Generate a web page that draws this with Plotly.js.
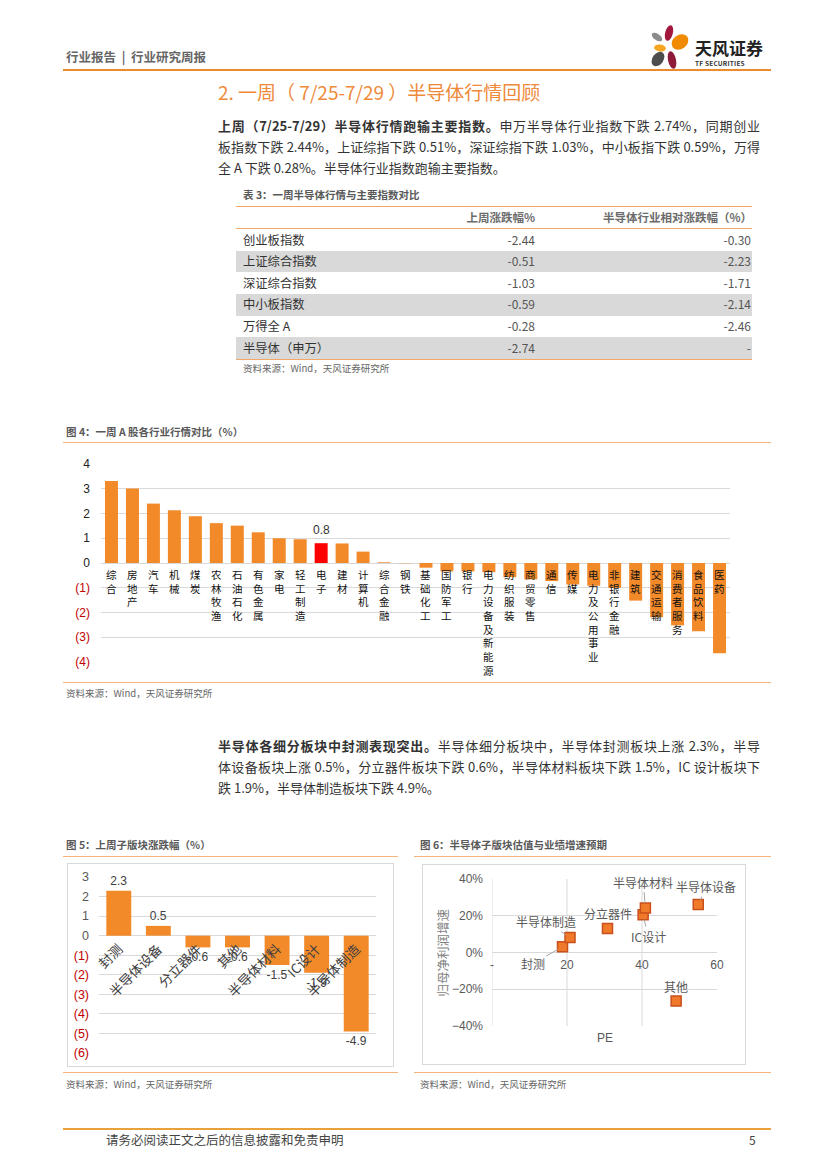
<!DOCTYPE html>
<html><head><meta charset="utf-8">
<script src="https://cdn.plot.ly/plotly-3.0.1.min.js"></script>
<style>
html,body{margin:0;padding:0;background:#fff;}
body{width:827px;height:1169px;position:relative;overflow:hidden;font-family:"Noto Sans CJK SC","Noto Sans",sans-serif;color:#333;}
.a{position:absolute;white-space:nowrap;}
.hl{position:absolute;height:0;}
.para{position:absolute;left:218px;width:542px;font-size:13px;line-height:21px;height:21px;white-space:nowrap;color:#333;}
.j{text-align:justify;text-align-last:justify;}
.cap{position:absolute;white-space:nowrap;font-size:10.5px;font-weight:bold;color:#595959;line-height:14px;}
.src{position:absolute;white-space:nowrap;font-size:9.5px;color:#666;line-height:12px;}
.plot{position:absolute;}
.box{position:absolute;border:1px solid #D9D9D9;box-sizing:border-box;}
</style></head><body>

<!-- header -->
<div class="a" style="left:66px;top:49px;font-size:12.5px;font-weight:bold;color:#666;line-height:16px;">行业报告 &nbsp;|&nbsp; 行业研究周报</div>
<svg style="position:absolute;left:640px;top:20px;" width="60" height="55" viewBox="640 20 60 55">
  <ellipse cx="669" cy="33" rx="3.8" ry="8" transform="rotate(15 669 33)" fill="#A3173D"/>
  <ellipse cx="680" cy="42" rx="9" ry="7" transform="rotate(-35 680 42)" fill="#F08A00"/>
  <ellipse cx="657" cy="37" rx="3.2" ry="6" transform="rotate(-55 657 37)" fill="#8C8C8C"/>
  <ellipse cx="660" cy="48" rx="6" ry="3.5" transform="rotate(8 660 48)" fill="#F5A623"/>
  <ellipse cx="658" cy="59" rx="5.5" ry="8" transform="rotate(35 658 59)" fill="#4D4D4D"/>
  <ellipse cx="672" cy="60" rx="4" ry="9" transform="rotate(-12 672 60)" fill="#8E1B3A"/>
</svg>
<div class="a" style="left:695px;top:37px;font-size:17px;font-weight:bold;color:#222;line-height:22px;">天风证券</div>
<div class="a" style="left:695px;top:59px;font-size:6.5px;font-weight:bold;color:#333;line-height:8px;letter-spacing:0.2px;">TF SECURITIES</div>
<div class="hl" style="left:63px;top:69px;width:708px;border-top:2px solid #EE8A2E;"></div>

<!-- section title -->
<div class="a" style="left:218px;top:80px;font-size:19px;color:#EE8A3A;line-height:24px;">2. 一周（ 7/25-7/29 ）半导体行情回顾</div>

<div class="para j" style="top:115px;"><b>上周（7/25-7/29）半导体行情跑输主要指数。</b>申万半导体行业指数下跌 2.74%，同期创业</div>
<div class="para j" style="top:136px;">板指数下跌 2.44%，上证综指下跌 0.51%，深证综指下跌 1.03%，中小板指下跌 0.59%，万得</div>
<div class="para" style="top:157px;">全 A 下跌 0.28%。半导体行业指数跑输主要指数。</div>

<!-- table -->
<div class="cap" style="left:243px;top:188px;font-size:10.5px;">表 3：一周半导体行情与主要指数对比</div>
<div id="tbl"></div>
<div class="src" style="left:243px;top:362px;">资料来源：Wind，天风证券研究所</div>

<!-- chart 4 -->
<div class="cap" style="left:66px;top:425px;">图 4：一周 A 股各行业行情对比（%）</div>
<div class="hl" style="left:63px;top:442px;width:708px;border-top:1.5px solid #F4B47A;"></div>
<div id="c4" class="plot" style="left:60px;top:448px;width:700px;height:232px;"></div>
<div class="hl" style="left:63px;top:682px;width:708px;border-top:1.5px solid #F4B47A;"></div>
<div class="src" style="left:66px;top:687px;">资料来源：Wind，天风证券研究所</div>

<div class="para j" style="top:735px;"><b>半导体各细分板块中封测表现突出。</b>半导体细分板块中，半导体封测板块上涨 2.3%，半导</div>
<div class="para j" style="top:756px;">体设备板块上涨 0.5%，分立器件板块下跌 0.6%，半导体材料板块下跌 1.5%，IC 设计板块下</div>
<div class="para" style="top:777px;">跌 1.9%，半导体制造板块下跌 4.9%。</div>

<!-- chart 5 -->
<div class="cap" style="left:66px;top:838px;">图 5：上周子版块涨跌幅（%）</div>
<div class="hl" style="left:63px;top:856px;width:335px;border-top:1.5px solid #F4B47A;"></div>
<div class="box" style="left:67px;top:863px;width:327px;height:204px;"></div>
<div id="c5" class="plot" style="left:67px;top:863px;width:327px;height:204px;"></div>
<div class="hl" style="left:63px;top:1072px;width:335px;border-top:1.5px solid #F4B47A;"></div>
<div class="src" style="left:66px;top:1078px;">资料来源：Wind，天风证券研究所</div>

<!-- chart 6 -->
<div class="cap" style="left:420px;top:838px;">图 6：半导体子版块估值与业绩增速预期</div>
<div class="hl" style="left:414px;top:856px;width:357px;border-top:1.5px solid #F4B47A;"></div>
<div class="box" style="left:422px;top:864px;width:324px;height:201px;"></div>
<div id="c6" class="plot" style="left:422px;top:864px;width:324px;height:201px;"></div>
<div class="hl" style="left:414px;top:1072px;width:357px;border-top:1.5px solid #F4B47A;"></div>
<div class="src" style="left:420px;top:1078px;">资料来源：Wind，天风证券研究所</div>

<!-- footer -->
<div class="hl" style="left:63px;top:1128px;width:708px;border-top:2.5px solid #E9A23B;"></div>
<div class="a" style="left:106px;top:1132px;font-size:12.5px;color:#444;line-height:16px;">请务必阅读正文之后的信息披露和免责申明</div>
<div class="a" style="left:749px;top:1132px;font-size:12px;color:#444;line-height:16px;">5</div>

<script>
// ---------- Table 3 data ----------
const tblNames = ['创业板指数','上证综合指数','深证综合指数','中小板指数','万得全 A','半导体（申万）'];
const tblChg = ['-2.44','-0.51','-1.03','-0.59','-0.28','-2.74'];
const tblRel = ['-0.30','-2.23','-1.71','-2.14','-2.46','-'];
const tblHead = ['上周涨跌幅%','半导体行业相对涨跌幅（%）'];

// ---------- Chart 4 data ----------
const cats4 = ['综合','房地产','汽车','机械','煤炭','农林牧渔','石油石化','有色金属','家电','轻工制造','电子','建材','计算机','综合金融','钢铁','基础化工','国防军工','银行','电力设备及新能源','纺织服装','商贸零售','通信','传媒','电力及公用事业','非银行金融','建筑','交通运输','消费者服务','食品饮料','医药'];
const vals4 = [3.31,3.01,2.40,2.13,1.89,1.61,1.51,1.24,1.00,0.96,0.80,0.79,0.46,0.03,-0.01,-0.19,-0.34,-0.34,-0.37,-0.57,-0.66,-0.73,-0.87,-0.92,-1.00,-1.52,-2.19,-2.52,-2.76,-3.65];
const ticks4 = [4,3,2,1,0,-1,-2,-3,-4];
const tickLabels4 = ['4','3','2','1','0','(1)','(2)','(3)','(4)'];
const highlight4 = '电子';

// ---------- Chart 5 data ----------
const cats5 = ['封测','半导体设备','分立器件','其他','半导体材料','IC设计','半导体制造'];
const vals5 = [2.3,0.5,-0.6,-0.6,-1.5,-1.9,-4.9];
const ticks5 = [3,2,1,0,-1,-2,-3,-4,-5,-6];
const tickLabels5 = ['3','2','1','0','(1)','(2)','(3)','(4)','(5)','(6)'];

// ---------- Chart 6 data ----------
const names6 = ['封测','半导体制造','分立器件','IC设计','半导体材料','半导体设备','其他'];
const pe6 = [18.8,20.8,30.8,40.3,40.9,55.0,49.1];
const growth6 = [0.031,0.081,0.130,0.206,0.242,0.261,-0.264];
const xticks6 = [0,20,40,60];
const xtickLabels6 = ['-','20','40','60'];

// ---------- build table ----------
(function(){
  const t = document.getElementById('tbl');
  const L = 236, R = 752, top0 = 206, headH = 22, rowH = 21.65;
  let h = '';
  h += `<div class="hl" style="left:${L}px;top:${top0}px;width:${R-L}px;border-top:1.5px solid #F3A867;"></div>`;
  h += `<div class="a" style="left:${L}px;width:${535-L}px;top:${top0+3}px;text-align:right;font-size:11.5px;font-weight:bold;color:#6b6b6b;line-height:16px;">${tblHead[0]}</div>`;
  h += `<div class="a" style="left:540px;width:${R-540}px;top:${top0+3}px;text-align:right;font-size:11.5px;font-weight:bold;color:#6b6b6b;line-height:16px;">${tblHead[1]}</div>`;
  h += `<div class="hl" style="left:${L}px;top:${top0+headH}px;width:${R-L}px;border-top:1.5px solid #F3A867;"></div>`;
  tblNames.forEach((n,i)=>{
    const y = top0 + headH + 1 + i*rowH;
    if (i % 2 === 1) h += `<div style="position:absolute;left:${L}px;top:${y}px;width:${R-L}px;height:${rowH}px;background:#D9D9D9;"></div>`;
    h += `<div class="a" style="left:243px;top:${y+2.5}px;font-size:12.3px;color:#333;line-height:16px;">${n}</div>`;
    h += `<div class="a" style="left:${L}px;width:${535-L}px;top:${y+2.5}px;text-align:right;font-size:12px;color:#555;line-height:16px;">${tblChg[i]}</div>`;
    h += `<div class="a" style="left:540px;width:${R-1-540}px;top:${y+2.5}px;text-align:right;font-size:12px;color:#555;line-height:16px;">${tblRel[i]}</div>`;
  });
  h += `<div class="hl" style="left:${L}px;top:${top0+headH+1+6*rowH}px;width:${R-L}px;border-top:1.5px solid #F3A867;"></div>`;
  t.innerHTML = h;
})();

const cfg = {staticPlot:true, displayModeBar:false};
const NUMFONT = 'Liberation Sans, Arial, sans-serif';
const CJK = 'Noto Sans CJK SC, sans-serif';
const ORANGE = '#F28A2A';
const RED = '#C00000';
const colorTick = (lab) => lab.startsWith('(') ? `<span style="color:${RED}">${lab}</span>` : lab;

// ---------- Chart 4 ----------
(function(){
  const colors = cats4.map(c => c === highlight4 ? '#FF0000' : ORANGE);
  // vertical (stacked-character) category labels just below the zero line
  const ann = cats4.map(c => ({x:c, y:0, xref:'x', yref:'y', text:Array.from(c).join('<br>'), showarrow:false,
      yanchor:'top', yshift:-2, font:{family:CJK, size:10.5, color:'#111'}}));
  const hi = cats4.indexOf(highlight4);
  ann.push({x:cats4[hi], y:vals4[hi], xref:'x', yref:'y', text:vals4[hi].toFixed(1),
    showarrow:false, yanchor:'bottom', yshift:4, font:{family:NUMFONT, size:12, color:'#333'}});
  Plotly.newPlot('c4', [{
    type:'bar', x:cats4, y:vals4, marker:{color:colors}, hoverinfo:'none'
  }], {
    width:700, height:232, margin:{l:41, r:30, t:16, b:18},
    paper_bgcolor:'rgba(0,0,0,0)', plot_bgcolor:'rgba(0,0,0,0)',
    bargap:0.38, showlegend:false,
    xaxis:{type:'category', range:[-0.5, cats4.length-0.5], showticklabels:false, showgrid:false, zeroline:false, showline:false, ticks:''},
    yaxis:{range:[-4,4], tickvals:ticks4, ticktext:tickLabels4.map(colorTick), showgrid:true, gridcolor:'#D9D9D9', gridwidth:1,
      zeroline:false, showline:false, ticks:'', ticklabelstandoff:10, tickfont:{family:NUMFONT, size:12, color:'#222'}},
    annotations:ann
  }, cfg);
})();

// ---------- Chart 5 ----------
(function(){
  const yr = [-6, 3];
  Plotly.newPlot('c5', [{
    type:'bar', x:cats5, y:vals5, marker:{color:ORANGE}, hoverinfo:'none',
    text:vals5.map(v => v.toFixed(1)), textposition:'outside', cliponaxis:false,
    textfont:{family:NUMFONT, size:12, color:'#404040'}
  }], {
    width:327, height:204, margin:{l:32, r:18, t:14, b:14},
    paper_bgcolor:'rgba(0,0,0,0)', plot_bgcolor:'rgba(0,0,0,0)',
    bargap:0.37, showlegend:false,
    xaxis:{type:'category', anchor:'free', position:(0-yr[0])/(yr[1]-yr[0]), tickangle:-45,
      showgrid:false, zeroline:false, showline:false, ticks:'', ticklabelstandoff:2,
      tickfont:{family:CJK, size:13.5, color:'#404040'}},
    yaxis:{range:yr, tickvals:ticks5, ticktext:tickLabels5.map(colorTick), showgrid:true, gridcolor:'#D9D9D9',
      zeroline:false, showline:false, ticks:'', ticklabelstandoff:9, tickfont:{family:NUMFONT, size:12.5, color:'#595959'}}
  }, cfg);
})();

// ---------- Chart 6 ----------
(function(){
  // label placement style (pixel offsets from each point)
  const labStyle = {
    '封测':      {ax:-30, ay:17, arrow:true},
    '半导体制造': {ax:-24, ay:-16, arrow:true},
    '分立器件':   {dy:15, arrow:false},
    'IC设计':    {ax:5, ay:22, arrow:true},
    '半导体材料': {ax:-2, ay:-26, arrow:true},
    '半导体设备': {ax:8, ay:-18, arrow:true},
    '其他':      {dy:15, arrow:false}
  };
  const ann = names6.map((n,i) => {
    const s = labStyle[n];
    const base = {x:pe6[i], y:growth6[i], xref:'x', yref:'y', text:n,
      font:{family:CJK, size:12, color:'#595959'}};
    if (s.arrow) return Object.assign(base, {showarrow:true, arrowhead:0, arrowwidth:1, arrowcolor:'#A6A6A6',
      ax:s.ax, ay:s.ay, axref:'pixel', ayref:'pixel', standoff:5});
    return Object.assign(base, {showarrow:false, yshift:s.dy});
  });
  ann.push({x:0, y:0.5, xref:'paper', yref:'paper', text:'归母净利润增速', textangle:-90, showarrow:false,
    xanchor:'center', yanchor:'middle', xshift:-50, font:{family:CJK, size:12.5, color:'#7F7F7F'}});
  ann.push({x:0.5, y:0, xref:'paper', yref:'paper', text:'PE', showarrow:false, xanchor:'center', yanchor:'top', yshift:-3,
    font:{family:NUMFONT, size:12, color:'#595959'}});
  const shapes = [0,20,40].map(v => ({type:'line', xref:'x', yref:'paper', x0:v, x1:v, y0:0, y1:1, layer:'below',
    line:{color:'#D9D9D9', width:1}}));
  Plotly.newPlot('c6', [{
    type:'scatter', mode:'markers', x:pe6, y:growth6, hoverinfo:'none', cliponaxis:false,
    marker:{symbol:'square', size:10, color:'#F07A2A', line:{color:'#C8501C', width:1.5}}
  }], {
    width:324, height:201, margin:{l:70, r:29, t:15, b:39},
    paper_bgcolor:'rgba(0,0,0,0)', plot_bgcolor:'rgba(0,0,0,0)', showlegend:false,
    xaxis:{range:[0,60], anchor:'free', position:0.5, tickvals:xticks6, ticktext:xtickLabels6,
      showgrid:false, zeroline:false, showline:false, ticks:'', ticklabelstandoff:3,
      tickfont:{family:NUMFONT, size:12, color:'#595959'}},
    yaxis:{range:[-0.4,0.4], dtick:0.2, tickformat:'.0%', showgrid:true, gridcolor:'#D9D9D9',
      zeroline:false, showline:false, ticks:'', ticklabelstandoff:8, tickfont:{family:NUMFONT, size:12, color:'#595959'}},
    shapes:shapes, annotations:ann
  }, cfg);
})();
</script>
</body></html>
